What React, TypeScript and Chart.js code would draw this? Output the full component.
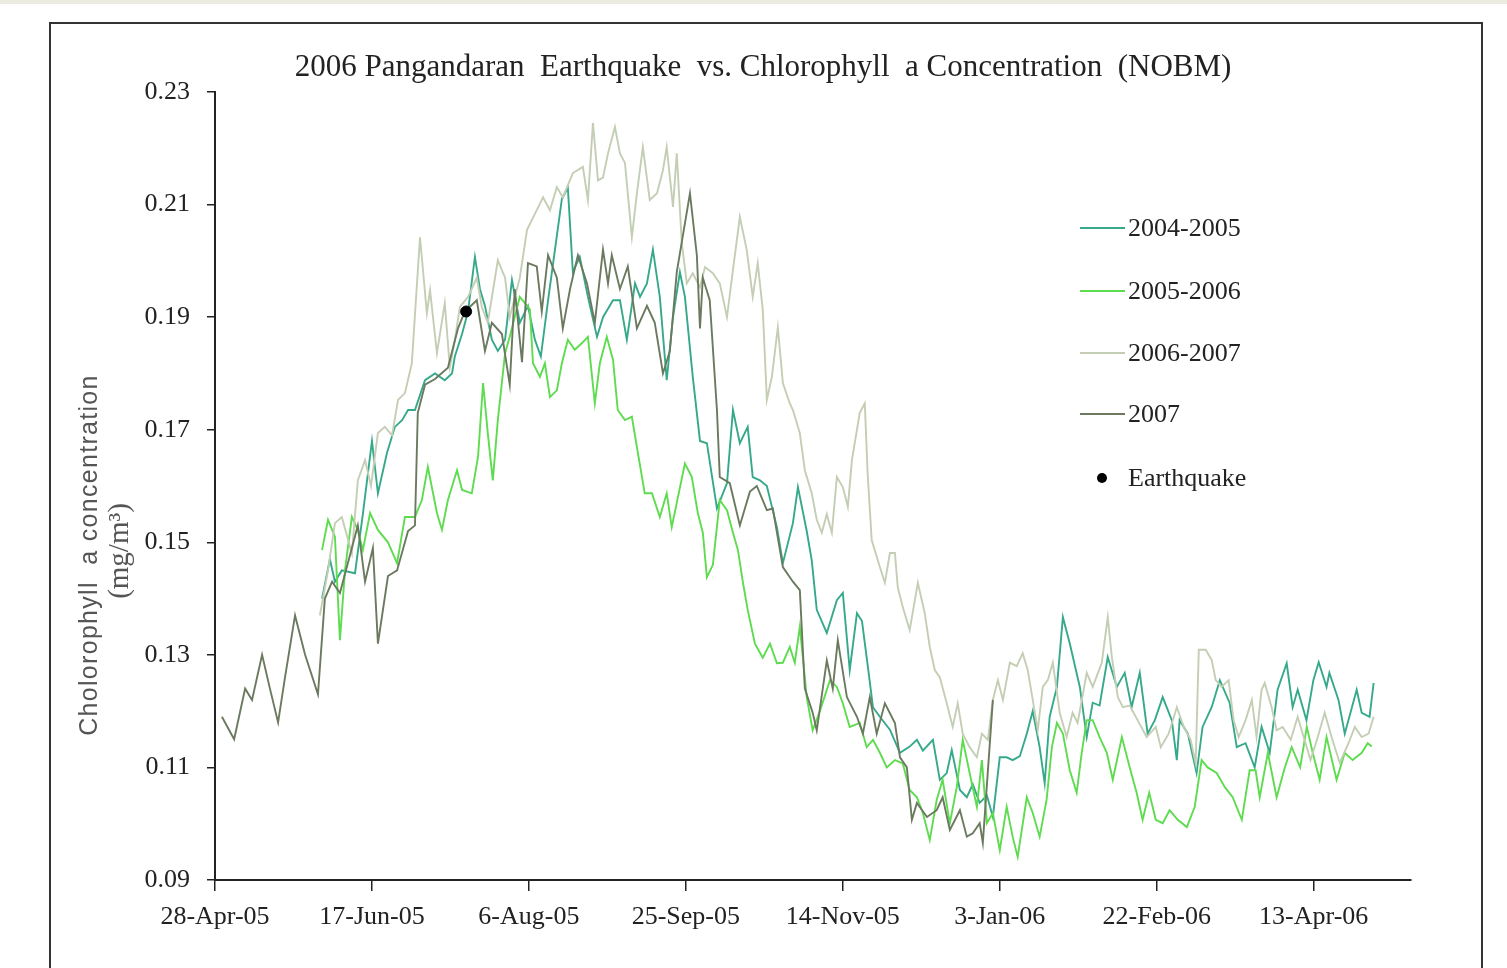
import React, { useEffect, useRef } from 'react';
import { Chart, registerables } from 'chart.js';

Chart.register(...registerables);

// ---- DATA ----
const chartTitle = '2006 Pangandaran  Earthquake  vs. Chlorophyll  a Concentration  (NOBM)';
const yTitleLine1 = 'Cholorophyll  a concentration';
const yTitleLine2 = '(mg/m\u00B3)';

// x ticks every 50 days starting 28-Apr-05
const tickLabels = ['28-Apr-05', '17-Jun-05', '6-Aug-05', '25-Sep-05', '14-Nov-05', '3-Jan-06', '22-Feb-06', '13-Apr-06'];
const yTickValues = [0.09, 0.11, 0.13, 0.15, 0.17, 0.19, 0.21, 0.23];

const seriesLabels = ['2004-2005', '2005-2006', '2006-2007', '2007'];

// days since 28-Apr-05
const days2004 = [34.1, 36.6, 38.2, 40.4, 44.6, 47.1, 50.0, 51.9, 54.8, 57.3,
  59.6, 61.5, 63.7, 66.9, 70.1, 73.2, 75.5, 76.4, 78.7, 80.6,
  82.8, 84.4, 86.0, 88.2, 90.1, 92.4, 94.6, 97.1, 99.7, 101.9,
  103.8, 106.1, 108.3, 110.5, 112.4, 114.0, 116.2, 118.8, 121.7, 123.6,
  126.8, 129.0, 131.2, 133.8, 135.4, 137.6, 139.5, 141.7, 143.9, 145.9,
  148.1, 149.7, 152.2, 154.5, 156.7, 159.9, 163.1, 165.0, 167.2, 169.7,
  171.3, 173.6, 175.8, 179.0, 180.9, 184.1, 185.7, 188.5, 190.1, 191.7,
  194.9, 198.1, 200.0, 202.2, 204.5, 206.1, 208.0, 209.6, 211.8, 215.0,
  218.2, 221.3, 223.6, 225.5, 228.7, 230.9, 233.1, 234.7, 237.3, 239.5,
  241.4, 243.6, 245.9, 247.8, 250.0, 252.2, 254.1, 256.4, 258.6, 260.5,
  262.7, 264.3, 265.9, 268.2, 270.1, 272.3, 275.5, 277.7, 279.6, 281.8,
  284.4, 287.3, 289.8, 292.0, 294.6, 297.1, 299.4, 301.9, 304.8, 306.4,
  307.3, 309.9, 312.7, 314.6, 317.5, 320.1, 323.2, 325.5, 328.3, 331.2,
  333.4, 336.0, 338.5, 341.4, 343.3, 344.9, 347.7, 349.9, 351.6, 354.1,
  355.0, 357.9, 359.9, 363.7, 365.3, 367.8, 369.1];
const values2004 = [0.140, 0.147, 0.143, 0.145, 0.1445, 0.155, 0.168, 0.1587, 0.1659, 0.1705,
  0.1717, 0.1735, 0.1735, 0.1788, 0.180, 0.1788, 0.180, 0.183, 0.187, 0.191,
  0.2007, 0.195, 0.192, 0.186, 0.184, 0.186, 0.1966, 0.189, 0.192, 0.186,
  0.183, 0.193, 0.202, 0.211, 0.213, 0.198, 0.2007, 0.1936, 0.1865, 0.190,
  0.193, 0.193, 0.186, 0.196, 0.1936, 0.196, 0.202, 0.1936, 0.1788, 0.190,
  0.198, 0.1936, 0.1794, 0.168, 0.1676, 0.156, 0.1605, 0.1735, 0.1676, 0.1705,
  0.1616, 0.161, 0.160, 0.1527, 0.1463, 0.1534, 0.1598, 0.152, 0.1468, 0.138,
  0.1339, 0.1397, 0.141, 0.1273, 0.1374, 0.136, 0.1278, 0.1207, 0.119, 0.1167,
  0.1126, 0.1137, 0.1149, 0.113, 0.1149, 0.1078, 0.109, 0.1131, 0.106, 0.1047,
  0.107, 0.1037, 0.105, 0.1012, 0.1118, 0.1118, 0.1113, 0.112, 0.116, 0.120,
  0.1136, 0.1072, 0.119, 0.1243, 0.1367, 0.132, 0.1243, 0.1154, 0.1215, 0.121,
  0.1296, 0.1243, 0.1268, 0.1207, 0.1268, 0.116, 0.1184, 0.1225, 0.1184, 0.1113,
  0.1184, 0.116, 0.109, 0.1172, 0.1207, 0.1255, 0.1215, 0.1136, 0.1143, 0.110,
  0.1172, 0.1126, 0.1238, 0.1285, 0.1207, 0.1238, 0.1184, 0.1255, 0.1287, 0.1243,
  0.1268, 0.122, 0.116, 0.1238, 0.1197, 0.119, 0.125];

const days2005 = [34.1, 36.0, 38.2, 39.8, 41.4, 43.6, 45.5, 47.1, 49.4, 51.9,
  55.1, 58.0, 60.5, 63.7, 65.9, 67.8, 70.7, 72.3, 74.2, 77.1,
  78.7, 81.8, 83.8, 85.4, 86.9, 88.5, 90.1, 92.4, 93.9, 97.1,
  100.3, 101.3, 103.5, 105.1, 106.7, 108.9, 110.5, 112.4, 114.6, 116.9,
  118.8, 121.0, 122.6, 124.8, 126.8, 128.3, 130.6, 132.8, 134.4, 136.9,
  139.2, 141.7, 143.9, 145.5, 147.1, 149.7, 151.9, 153.8, 155.4, 156.7,
  158.6, 160.8, 163.1, 165.0, 166.6, 168.2, 169.7, 172.0, 174.5, 176.8,
  179.0, 180.9, 183.1, 184.7, 186.3, 188.5, 190.4, 192.7, 195.9, 198.1,
  200.0, 202.2, 205.4, 207.6, 209.6, 211.8, 214.0, 216.6, 219.1, 221.3,
  223.6, 225.5, 227.7, 229.9, 231.8, 234.1, 236.3, 238.2, 240.4, 242.7,
  244.3, 245.9, 247.8, 250.0, 252.2, 254.1, 255.7, 258.6, 260.5, 262.7,
  264.9, 266.6, 268.2, 270.1, 272.3, 274.5, 276.1, 277.7, 279.6, 281.8,
  284.1, 286.0, 288.9, 291.4, 293.6, 295.5, 297.6, 299.7, 301.9, 304.1,
  306.7, 309.6, 312.1, 314.3, 316.2, 319.1, 321.7, 324.2, 327.1, 329.6,
  331.5, 332.8, 335.4, 338.2, 340.8, 343.0, 345.7, 347.8, 349.7, 351.9,
  354.1, 357.3, 359.9, 362.4, 365.3, 367.2, 368.5];
const values2005 = [0.1486, 0.154, 0.151, 0.1326, 0.145, 0.1545, 0.1522, 0.1486, 0.1552, 0.1522,
  0.150, 0.1463, 0.1545, 0.1545, 0.1575, 0.1634, 0.1552, 0.1522, 0.1575, 0.1628,
  0.1593, 0.1587, 0.1652, 0.1783, 0.1694, 0.161, 0.1717, 0.1836, 0.1865, 0.1936,
  0.1914, 0.1818, 0.1794, 0.1818, 0.1758, 0.177, 0.1818, 0.186, 0.1842, 0.1854,
  0.1865, 0.1747, 0.1818, 0.1865, 0.1824, 0.1735, 0.1717, 0.1723, 0.1669, 0.1587,
  0.1587, 0.1545, 0.1587, 0.1527, 0.157, 0.164, 0.1616, 0.1552, 0.1517, 0.1438,
  0.146, 0.1575, 0.1557, 0.1517, 0.1486, 0.1428, 0.138, 0.132, 0.1295, 0.132,
  0.1285, 0.1286, 0.1314, 0.1286, 0.135, 0.1225, 0.1166, 0.120, 0.1255, 0.1243,
  0.1214, 0.1172, 0.1179, 0.1136, 0.1149, 0.1126, 0.110, 0.1113, 0.1107, 0.106,
  0.1047, 0.1019, 0.0971, 0.1042, 0.1078, 0.1001, 0.1065, 0.1149, 0.109, 0.103,
  0.1113, 0.1001, 0.1019, 0.0953, 0.103, 0.0977, 0.0941, 0.1047, 0.1019, 0.0977,
  0.1042, 0.1136, 0.1179, 0.116, 0.1095, 0.1055, 0.1126, 0.1184, 0.1184, 0.1154,
  0.1126, 0.1078, 0.1154, 0.110, 0.1055, 0.1007, 0.1055, 0.1007, 0.1001, 0.1024,
  0.1007, 0.0994, 0.103, 0.1113, 0.110, 0.109, 0.1065, 0.1047, 0.1007, 0.1095,
  0.1095, 0.1047, 0.1126, 0.1047, 0.110, 0.1136, 0.110, 0.1172, 0.1126, 0.1078,
  0.1154, 0.1078, 0.1126, 0.1113, 0.1126, 0.1143, 0.1137];

const days2006 = [33.4, 36.0, 38.2, 40.4, 43.6, 45.5, 47.8, 49.7, 51.9, 54.1,
  56.4, 58.3, 60.5, 62.7, 65.3, 67.5, 68.5, 70.7, 73.2, 74.8,
  76.4, 78.0, 80.6, 83.4, 85.0, 86.9, 90.1, 92.4, 93.9, 97.1,
  99.4, 102.5, 104.5, 106.7, 108.9, 110.8, 114.0, 117.2, 118.8, 120.4,
  122.0, 123.6, 125.2, 127.4, 129.0, 130.6, 132.8, 134.4, 136.3, 138.5,
  140.8, 142.7, 143.9, 145.9, 147.1, 148.7, 150.3, 152.2, 154.5, 156.1,
  158.6, 160.8, 163.1, 165.0, 167.2, 169.4, 171.3, 172.9, 174.5, 175.8,
  177.4, 179.3, 180.9, 183.1, 184.1, 186.3, 187.9, 190.1, 191.7, 193.3,
  194.9, 196.5, 198.1, 200.0, 201.6, 202.9, 205.4, 207.0, 207.9, 209.2,
  211.8, 213.4, 215.0, 216.6, 217.5, 219.1, 221.3, 223.9, 226.1, 227.7,
  229.3, 230.9, 233.1, 235.0, 236.6, 238.2, 240.4, 242.7, 244.3, 246.2,
  247.8, 249.4, 251.0, 253.2, 255.4, 257.3, 258.9, 260.5, 262.1, 263.7,
  265.3, 266.9, 269.1, 271.3, 273.2, 274.8, 277.7, 279.6, 282.5, 284.4,
  285.7, 287.6, 289.2, 291.4, 293.9, 296.8, 299.7, 301.3, 303.8, 306.4,
  308.6, 310.8, 312.4, 313.4, 315.6, 317.5, 318.8, 320.7, 322.9, 324.5,
  326.1, 328.3, 330.3, 331.8, 333.4, 334.4, 336.6, 338.2, 340.1, 342.7,
  344.9, 346.8, 349.0, 351.3, 353.5, 355.7, 358.3, 361.1, 363.1, 365.3,
  367.5, 369.1];
const values2006 = [0.137, 0.145, 0.1534, 0.1545, 0.148, 0.161, 0.1646, 0.160, 0.1694, 0.1705,
  0.169, 0.1753, 0.1765, 0.1818, 0.2042, 0.1907, 0.1948, 0.1836, 0.1925, 0.1811,
  0.1859, 0.1918, 0.1936, 0.197, 0.1918, 0.189, 0.2001, 0.197, 0.190, 0.197,
  0.2055, 0.209, 0.2113, 0.209, 0.2131, 0.2113, 0.2156, 0.2167, 0.2108, 0.2245,
  0.2143, 0.2148, 0.2191, 0.2238, 0.2191, 0.2174, 0.2042, 0.212, 0.2202, 0.2108,
  0.212, 0.2161, 0.2202, 0.2096, 0.2191, 0.2032, 0.196, 0.1978, 0.1953, 0.1989,
  0.1978, 0.196, 0.190, 0.1984, 0.2078, 0.2019, 0.1936, 0.1996, 0.1913, 0.1753,
  0.1794, 0.1882, 0.1783, 0.1747, 0.1735, 0.1694, 0.1628, 0.1587, 0.154, 0.1517,
  0.155, 0.1517, 0.1616, 0.1598, 0.1563, 0.1646, 0.173, 0.1747, 0.1623, 0.1504,
  0.1456, 0.1428, 0.1481, 0.1481, 0.142, 0.1385, 0.1344, 0.1428, 0.1374, 0.1314,
  0.1273, 0.126, 0.1214, 0.1172, 0.1214, 0.116, 0.1136, 0.1118, 0.116, 0.1149,
  0.122, 0.1255, 0.122, 0.1286, 0.128, 0.1303, 0.1273, 0.122, 0.1166, 0.1243,
  0.1255, 0.1286, 0.1197, 0.1154, 0.1197, 0.1179, 0.1268, 0.1243, 0.1286, 0.1367,
  0.1296, 0.1225, 0.1207, 0.121, 0.1184, 0.1154, 0.1172, 0.1136, 0.116, 0.1207,
  0.1172, 0.1149, 0.1108, 0.1309, 0.1309, 0.1291, 0.1255, 0.1243, 0.1255, 0.1184,
  0.1154, 0.1184, 0.122, 0.1154, 0.1238, 0.125, 0.1207, 0.1166, 0.1172, 0.1149,
  0.119, 0.1154, 0.1113, 0.1154, 0.1197, 0.1154, 0.1108, 0.1143, 0.1172, 0.1154,
  0.116, 0.119];

const days2007 = [2.2, 6.1, 9.6, 11.8, 15.0, 17.5, 20.1, 22.3, 25.5, 28.7,
  32.8, 35.0, 37.3, 39.8, 45.5, 47.8, 50.3, 51.9, 55.1, 58.0,
  61.5, 63.7, 64.6, 66.9, 70.1, 74.2, 77.4, 79.6, 83.4, 86.0,
  88.2, 91.4, 93.9, 95.5, 97.8, 99.7, 102.5, 104.1, 106.1, 108.9,
  110.8, 113.1, 115.6, 118.5, 121.0, 123.6, 125.2, 126.4, 129.0, 131.5,
  134.4, 137.6, 140.1, 142.7, 144.9, 147.1, 151.3, 153.5, 154.5, 155.4,
  157.6, 159.9, 160.8, 164.0, 167.2, 170.4, 172.6, 175.8, 177.7, 180.9,
  184.1, 186.3, 187.9, 190.4, 191.7, 194.9, 196.8, 198.4, 201.3, 204.5,
  206.4, 208.6, 210.8, 213.4, 216.6, 218.2, 220.4, 222.0, 223.6, 226.8,
  229.9, 231.8, 234.1, 237.3, 239.5, 241.4, 243.6, 244.6, 247.8];
const values2007 = [0.119, 0.115, 0.124, 0.122, 0.130, 0.124, 0.118, 0.126, 0.137, 0.130,
  0.123, 0.140, 0.143, 0.141, 0.153, 0.143, 0.149, 0.132, 0.144, 0.145,
  0.152, 0.153, 0.173, 0.178, 0.179, 0.181, 0.188, 0.191, 0.193, 0.184,
  0.189, 0.187, 0.178, 0.195, 0.182, 0.1996, 0.199, 0.191, 0.201, 0.197,
  0.188, 0.195, 0.201, 0.196, 0.189, 0.202, 0.196, 0.201, 0.195, 0.199,
  0.188, 0.192, 0.189, 0.180, 0.184, 0.198, 0.212, 0.201, 0.188, 0.197,
  0.193, 0.1735, 0.1616, 0.1605, 0.153, 0.159, 0.160, 0.1557, 0.156, 0.1456,
  0.143, 0.1415, 0.124, 0.1197, 0.1166, 0.129, 0.124, 0.1326, 0.1225, 0.119,
  0.116, 0.1225, 0.116, 0.1214, 0.1179, 0.1118, 0.110, 0.1007, 0.1037, 0.1012,
  0.1024, 0.1047, 0.0989, 0.1024, 0.0977, 0.0983, 0.1001, 0.0966, 0.122];

const quakeDays = [80];
const quakeValues = [0.191];

// ---- STYLE ----
const seriesColors = ['#36a98a', '#5edc4f', '#c4ceb4', '#6b7a5f'];
const SERIF = '"Liberation Serif", "Times New Roman", serif';
const SANS = '"Liberation Sans", Arial, sans-serif';

function pairs(d: number[], v: number[]) {
  const n = Math.min(d.length, v.length);
  const out: { x: number; y: number }[] = [];
  for (let i = 0; i < n; i++) out.push({ x: d[i], y: v[i] });
  return out;
}

const overlayPlugin = {
  id: 'overlay',
  afterDraw(chart: any) {
    const ctx: CanvasRenderingContext2D = chart.ctx;
    ctx.save();
    // Title
    ctx.fillStyle = '#222';
    ctx.font = `31px ${SERIF}`;
    ctx.textAlign = 'center';
    ctx.textBaseline = 'middle';
    ctx.fillText(chartTitle, 763, 68);

    // Y axis title
    ctx.save();
    ctx.translate(90, 555);
    ctx.rotate(-Math.PI / 2);
    ctx.fillStyle = '#555';
    ctx.font = `25px ${SANS}`;
    (ctx as any).letterSpacing = '1.3px';
    ctx.fillText(yTitleLine1, 0, 0);
    ctx.restore();
    ctx.save();
    ctx.translate(120, 551);
    ctx.rotate(-Math.PI / 2);
    ctx.fillStyle = '#555';
    ctx.font = `29px ${SERIF}`;
    ctx.fillText(yTitleLine2, 0, 0);
    ctx.restore();

    // Legend
    const legendY = [228, 291, 353, 414];
    ctx.font = `26px ${SERIF}`;
    ctx.textAlign = 'left';
    ctx.textBaseline = 'middle';
    for (let i = 0; i < seriesLabels.length; i++) {
      const y = legendY[i];
      ctx.strokeStyle = seriesColors[i];
      ctx.lineWidth = 2;
      ctx.beginPath();
      ctx.moveTo(1080, y);
      ctx.lineTo(1125, y);
      ctx.stroke();
      ctx.fillStyle = '#222';
      ctx.fillText(seriesLabels[i], 1128, y + 1);
    }
    ctx.fillStyle = '#000';
    ctx.beginPath();
    ctx.arc(1102, 478, 5, 0, Math.PI * 2);
    ctx.fill();
    ctx.fillStyle = '#222';
    ctx.fillText('Earthquake', 1128, 479);
    ctx.restore();
  },
};

export default function App() {
  const ref = useRef<HTMLCanvasElement>(null);
  useEffect(() => {
    const seriesDays = [days2004, days2005, days2006, days2007];
    const seriesValues = [values2004, values2005, values2006, values2007];
    const orders = [4, 3, 2, 1];
    const datasets: any[] = seriesLabels.map((label, i) => ({
      type: 'line',
      label,
      data: pairs(seriesDays[i], seriesValues[i]),
      borderColor: seriesColors[i],
      backgroundColor: seriesColors[i],
      borderWidth: 1.9,
      pointRadius: 0,
      tension: 0,
      fill: false,
      order: orders[i],
    }));
    datasets.push({
      type: 'scatter',
      label: 'Earthquake',
      data: pairs(quakeDays, quakeValues),
      backgroundColor: '#000',
      borderColor: '#000',
      pointRadius: 5.5,
      order: 0,
    });
    const chart = new Chart(ref.current as HTMLCanvasElement, {
      type: 'line',
      data: { datasets },
      options: {
        responsive: false,
        animation: false,
        devicePixelRatio: 1,
        layout: { padding: { top: 92, right: 96, bottom: 0, left: 0 } },
        plugins: { legend: { display: false }, tooltip: { enabled: false }, title: { display: false } },
        scales: {
          x: {
            type: 'linear',
            min: 0,
            max: 381,
            afterFit: (s: any) => { s.height = 88; },
            ticks: {
              stepSize: 50,
              includeBounds: false,
              autoSkip: false,
              maxRotation: 0,
              minRotation: 0,
              padding: 11,
              color: '#222',
              font: { family: SERIF, size: 26 },
              callback: (v: any) => tickLabels[Math.round(Number(v) / 50)] ?? '',
            },
            grid: { drawOnChartArea: false, drawTicks: true, tickLength: 11, color: '#222', lineWidth: 1.5 },
            border: { display: true, color: '#222', width: 2 },
          },
          y: {
            type: 'linear',
            min: yTickValues[0],
            max: yTickValues[yTickValues.length - 1],
            afterFit: (s: any) => { s.width = 215; },
            afterBuildTicks: (s: any) => { s.ticks = yTickValues.map((v) => ({ value: v })); },
            ticks: {
              padding: 17,
              color: '#222',
              font: { family: SERIF, size: 26 },
              callback: (v: any) => Number(v).toFixed(2),
            },
            grid: { drawOnChartArea: false, drawTicks: true, tickLength: 8, color: '#222', lineWidth: 1.5 },
            border: { display: true, color: '#222', width: 2 },
          },
        },
      } as any,
      plugins: [overlayPlugin],
    });
    return () => chart.destroy();
  }, []);

  return (
    <div style={{ position: 'fixed', left: 0, top: 0, width: 1507, height: 968, background: '#fff', overflow: 'hidden' }}>
      <div style={{ position: 'absolute', left: 0, top: 0, width: 1507, height: 4, background: '#ecebe0' }} />
      <div
        style={{
          position: 'absolute',
          left: 49,
          top: 22,
          width: 1430,
          height: 1000,
          borderLeft: '2px solid #333',
          borderTop: '2px solid #333',
          borderRight: '2px solid #333',
        }}
      />
      <canvas ref={ref} width={1507} height={968} style={{ position: 'absolute', left: 0, top: 0, width: 1507, height: 968 }} />
    </div>
  );
}
